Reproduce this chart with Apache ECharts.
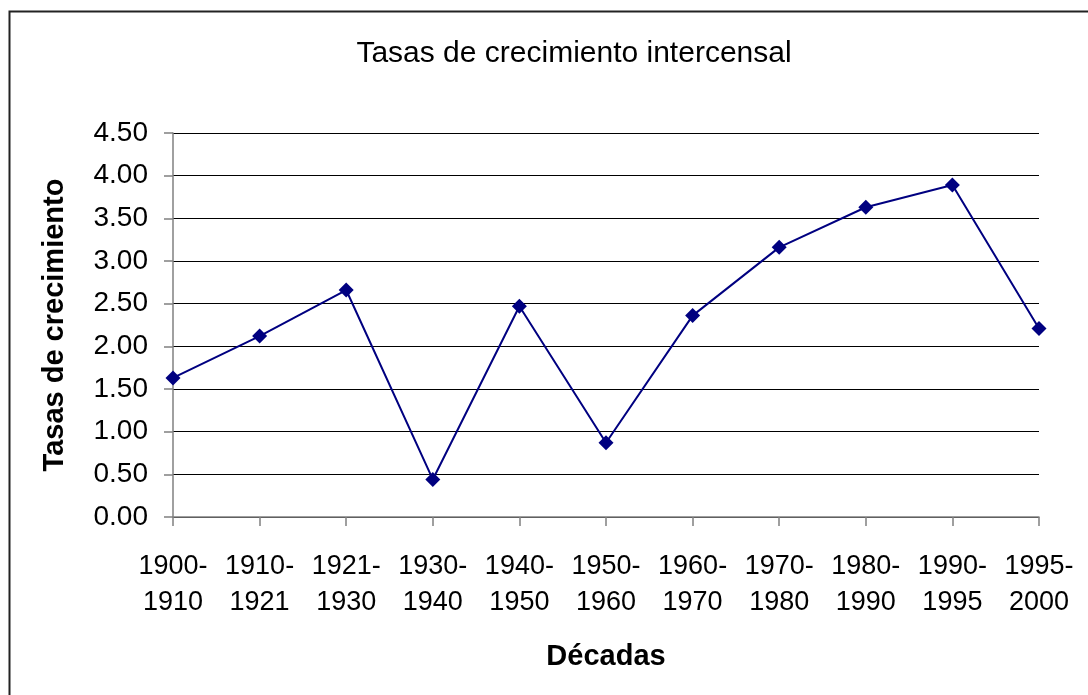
<!DOCTYPE html>
<html>
<head>
<meta charset="utf-8">
<script src="https://cdn.jsdelivr.net/npm/echarts@6/dist/echarts.min.js"></script>
<style>
html,body{margin:0;padding:0;background:#fff;}
#chart{width:1088px;height:695px;}
</style>
</head>
<body>
<div id="chart"></div>
<script>
const categories = ['1900-\n1910','1910-\n1921','1921-\n1930','1930-\n1940','1940-\n1950','1950-\n1960','1960-\n1970','1970-\n1980','1980-\n1990','1990-\n1995','1995-\n2000'];
const tasas = [1.63, 2.12, 2.66, 0.44, 2.47, 0.87, 2.36, 3.16, 3.63, 3.89, 2.21];
const titleText = 'Tasas de crecimiento intercensal';
const yAxisName = 'Tasas de crecimiento';
const xAxisName = 'Décadas';

const chart = echarts.init(document.getElementById('chart'));
const font = '"Liberation Sans", Arial, sans-serif';
chart.setOption({
  backgroundColor: '#fff',
  animation: false,
  graphic: [{
    type: 'rect',
    shape: {x: 9.5, y: 11.5, width: 1200, height: 800},
    style: {fill: 'none', stroke: '#222', lineWidth: 2}
  }],
  title: {
    text: titleText,
    left: 569, top: 34, textAlign: 'center',
    textStyle: {fontFamily: font, fontSize: 30, fontWeight: 'normal', color: '#000'}
  },
  grid: {left: 173, right: 49, top: 133, bottom: 178, containLabel: false},
  xAxis: {
    type: 'category',
    data: categories,
    boundaryGap: false,
    name: xAxisName,
    nameLocation: 'middle',
    nameGap: 125,
    nameTextStyle: {fontFamily: font, fontSize: 29, fontWeight: 'bold', color: '#000', verticalAlign: 'top'},
    axisLine: {lineStyle: {color: '#808080', width: 1.5}},
    axisTick: {show: true, length: 9, alignWithLabel: true, lineStyle: {color: '#808080', width: 1.5}},
    axisLabel: {fontFamily: font, fontSize: 27, color: '#000', margin: 32, lineHeight: 36, interval: 0},
    splitLine: {show: false}
  },
  yAxis: {
    type: 'value',
    min: 0, max: 4.5, interval: 0.5,
    name: yAxisName,
    nameLocation: 'middle',
    nameGap: 104,
    nameRotate: 90,
    nameTextStyle: {fontFamily: font, fontSize: 29, fontWeight: 'bold', color: '#000'},
    axisLine: {show: true, lineStyle: {color: '#808080', width: 1.5}},
    axisTick: {show: true, length: 9, lineStyle: {color: '#808080', width: 1.5}},
    axisLabel: {fontFamily: font, fontSize: 28, color: '#000', margin: 25,
      formatter: v => v.toFixed(2)},
    splitLine: {show: true, lineStyle: {color: '#000', width: 1}}
  },
  series: [{
    type: 'line',
    data: tasas,
    symbol: 'diamond',
    symbolSize: 15,
    lineStyle: {color: '#000080', width: 2},
    itemStyle: {color: '#000080'},
    z: 5
  }]
});
</script>
</body>
</html>
